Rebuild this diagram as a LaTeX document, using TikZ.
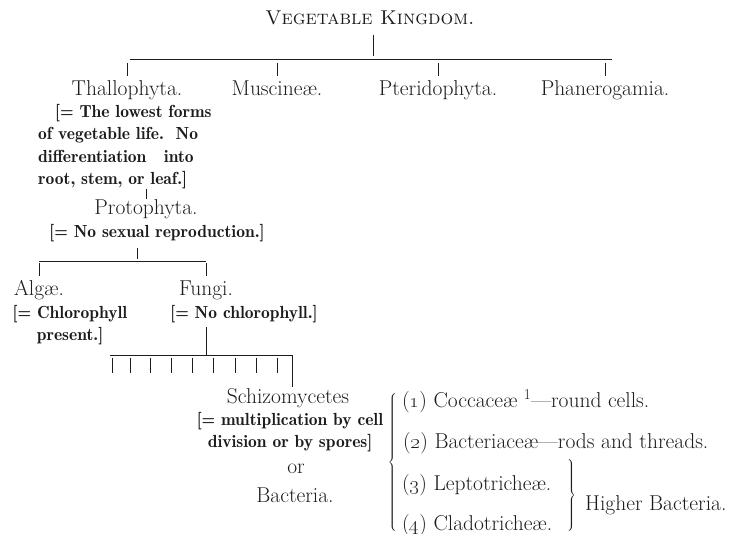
\documentclass[tikz,border=0pt]{standalone}
\usepackage{tikz}
\usetikzlibrary{positioning,calc}
\definecolor{ink}{HTML}{1C1C1C}
\tikzset{
  taxon/.style={
    font=\fontsize{21.5}{26}\selectfont, text=ink,
    inner sep=0pt, anchor=base
  },
  gloss/.style={
    font=\fontsize{17.5}{22.5}\fontseries{b}\selectfont, text=ink,
    inner sep=0pt, anchor=base, align=center
  },
  headline/.style={
    font=\fontsize{20}{24}\selectfont\scshape, text=ink,
    inner sep=0pt, anchor=base
  },
  stem/.style={draw=ink, line width=0.9pt},
}

\begin{document}
\begin{tikzpicture}[x=1pt, y=-1pt]
  \useasboundingbox (0,0) rectangle (738,534);

  % Nodes
  \node[headline] (kingdom) at (370,25) {Vegetable Kingdom.};
  \node[taxon] (thallo) at (127,96) {Thallophyta.};
  \node[taxon] (musci) at (277,96) {Muscine\ae.};
  \node[taxon] (pterido) at (438,96) {Pteridophyta.};
  \node[taxon] (phanero) at (605,96) {Phanerogamia.};
  \node[gloss, align=left, anchor=north west] (thallonote) at (38,104)
    {\hspace*{17pt}[= The lowest forms\\of vegetable life.\ \ No\\
     differentiation\quad into\\root, stem, or leaf.]};
  \node[taxon] (proto) at (146,215) {Protophyta.};
  \node[gloss] (protonote) at (157,238) {[= No sexual reproduction.]};
  \node[taxon] (algae) at (39,295) {Alg\ae.};
  \node[taxon] (fungi) at (206,295) {Fungi.};
  \node[gloss, anchor=north] (algaenote) at (70,305) {[= Chlorophyll\\present.]};
  \node[gloss] (funginote) at (244,318) {[= No chlorophyll.]};
  \node[taxon] (schizo) at (288,403) {Schizomycetes};
  \node[gloss, anchor=north] (schizonote) at (290,412)
    {[= multiplication by cell\\division or by spores]};
  \node[taxon] (orword) at (296,473) {or};
  \node[taxon] (bacteria) at (295,502) {Bacteria.};

  % Groups of Bacteria
  \node[inner sep=0pt, text=ink] (bigbrace) at (393,463)
    {$\left\{\rule{0pt}{67pt}\rule[-67pt]{0pt}{67pt}\right.$};
  \node[taxon, anchor=base west] (coccus) at (402,407)
    {(\oldstylenums{1}) Coccace\ae\ \textsuperscript{1}---round cells.};
  \node[taxon, anchor=base west] (bacterium) at (403,448)
    {(\oldstylenums{2}) Bacteriace\ae---rods and threads.};
  \node[taxon, anchor=base west] (lepto) at (402,490)
    {(\oldstylenums{3}) Leptotriche\ae.};
  \node[taxon, anchor=base west] (clado) at (402,530)
    {(\oldstylenums{4}) Cladotriche\ae.};
  \node[inner sep=0pt, text=ink] (smallbrace) at (571,497)
    {$\left.\rule{0pt}{36pt}\rule[-36pt]{0pt}{36pt}\right\}$};
  \node[taxon, anchor=base west] (higher) at (585,510) {Higher Bacteria.};

  % Bars
  \coordinate (kbarL) at (130,59);
  \coordinate (kbarR) at (612,59);
  \coordinate (kjoin) at (373,59);
  \coordinate (pjoin) at (137,261);
  \coordinate (fbarL) at (110,355);
  \coordinate (fbarR) at (292,355);

  \draw[stem] (kbarL) -- (kbarR);
  \draw[stem, shorten <=9pt, shorten >=3pt] (kingdom.south -| kjoin) -- (kjoin);
  \foreach \n in {thallo, musci, pterido, phanero}
    \draw[stem, shorten <=4pt, shorten >=5pt] (\n.north |- kjoin) -- (\n.north);

  \draw[stem, shorten >=1pt] (thallonote.south -| proto) -- (proto.north);
  \draw[stem, shorten <=5pt, shorten >=2pt] (protonote.south -| pjoin) -- (pjoin);
  \draw[stem] (algae |- pjoin) -- (fungi |- pjoin);
  \draw[stem, shorten <=2pt, shorten >=4pt] (algae |- pjoin) -- (algae.north);
  \draw[stem, shorten <=2pt, shorten >=4pt] (fungi |- pjoin) -- (fungi.north);

  \draw[stem, shorten <=4pt] (funginote.south -| fungi) -- (fungi |- fbarL);
  \draw[stem] (fbarL) -- (fbarR);
  \foreach \x in {112,130,150,171,192,213,235,256,277}
    \draw[stem] (\x,358) -- (\x,373);
  \draw[stem, shorten >=1pt] (fbarR) -- (fbarR |- schizo.north);
\end{tikzpicture}
\end{document}
